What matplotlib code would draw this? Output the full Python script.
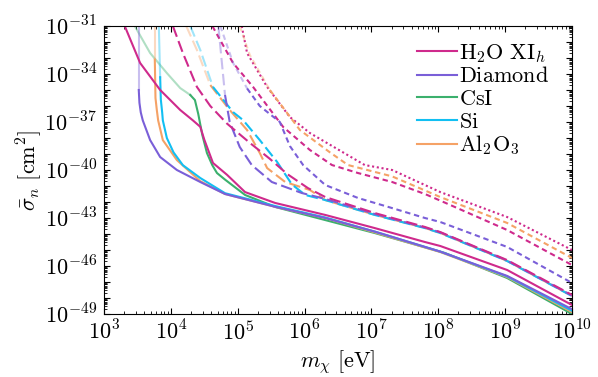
import numpy as np
import matplotlib
matplotlib.use("Agg")
import matplotlib.pyplot as plt
from matplotlib.ticker import FixedLocator, FuncFormatter, NullFormatter

plt.rcParams['mathtext.fontset'] = 'cm'
plt.rcParams['font.family'] = 'serif'
plt.rcParams['font.serif'] = ['DejaVu Serif']

# values are log10(m_chi / eV) and log10(sigma_n / cm^2)
materials = [r'$\mathrm{H_2O\ XI}_h$', r'$\mathrm{Diamond}$', r'$\mathrm{CsI}$',
             r'$\mathrm{Si}$', r'$\mathrm{Al_2O_3}$']
colors = ['#cf2a8c', '#7a5fd8', '#3bb06d', '#12bff2', '#f5a266']

# solid curves
h2o_solid_x = [3.31, 3.54, 3.84, 4.14, 4.33, 4.44, 4.50, 4.63, 4.84, 5.11, 5.56, 6.31, 7.05, 7.80, 8.03, 9.03, 10.0]
h2o_solid_y = [-31.0, -33.31, -35.0, -36.25, -36.9, -37.3, -38.1, -39.56, -40.3, -41.38, -42.06, -42.81, -43.63, -44.5, -44.75, -46.25, -48.44]

dia_solid_x = [3.52, 3.52, 3.53, 3.55, 3.58, 3.69, 3.84, 4.09, 4.44, 4.81, 5.56, 6.31, 7.05, 8.03, 9.03, 10.0]
dia_solid_y = [-31.0, -35.0, -35.8, -36.4, -36.9, -38.13, -39.19, -40.0, -40.75, -41.5, -42.3, -43.0, -43.85, -45.1, -46.62, -48.7]

csi_solid_x = [3.46, 3.69, 3.94, 4.14, 4.29, 4.36, 4.41, 4.47, 4.54, 4.62, 4.69, 4.81, 5.11, 5.56, 6.31, 7.05, 8.10, 9.03, 10.0]
csi_solid_y = [-31.0, -32.69, -33.94, -34.88, -35.31, -35.63, -36.5, -37.8, -38.94, -39.7, -40.19, -40.6, -41.56, -42.31, -43.13, -43.94, -45.19, -46.75, -49.0]

si_solid_x = [3.82, 3.84, 3.85, 3.87, 3.88, 3.94, 4.04, 4.18, 4.44, 4.81, 5.56, 6.31, 7.05, 8.03, 9.03, 10.0]
si_solid_y = [-31.0, -34.2, -35.6, -36.4, -36.9, -38.0, -38.9, -39.7, -40.5, -41.45, -42.25, -42.97, -43.85, -45.1, -46.65, -48.8]

al_solid_x = [3.76, 3.76, 3.77, 3.79, 3.81, 3.88, 4.09, 4.44, 4.81, 5.56, 6.31, 7.05, 8.03, 9.03, 10.0]
al_solid_y = [-31.0, -33.1, -35.5, -36.25, -36.9, -38.13, -39.38, -40.7, -41.5, -42.3, -43.0, -43.9, -45.13, -46.69, -48.88]

# long-dashed curves
h2o_long_x = [4.03, 4.18, 4.39, 4.59, 4.84, 5.18, 5.48, 5.74, 6.05, 6.31, 7.05, 7.80, 8.03, 9.03, 10.0]
h2o_long_y = [-31.0, -32.69, -34.81, -36.0, -37.1, -38.3, -39.3, -40.25, -41.13, -41.69, -42.69, -43.56, -43.88, -45.63, -47.81]

dia_long_x = [4.71, 4.81, 4.88, 5.03, 5.21, 5.51, 5.96, 6.31, 7.05, 7.80, 8.03, 9.03, 10.0]
dia_long_y = [-31.0, -35.31, -37.0, -38.56, -39.69, -40.75, -41.44, -41.81, -42.75, -43.6, -43.9, -45.66, -47.85]

si_long_x = [4.29, 4.44, 4.63, 4.93, 5.08, 5.33, 5.59, 5.81, 6.01, 6.31, 7.05, 7.80, 8.03, 9.03, 10.0]
si_long_y = [-31.0, -32.5, -34.81, -36.38, -36.88, -38.13, -39.5, -40.9, -41.56, -41.88, -42.81, -43.63, -43.94, -45.69, -47.88]

al_long_x = [4.23, 4.39, 4.59, 4.88, 5.14, 5.33, 5.44, 5.71, 6.08, 6.31, 7.05, 7.80, 8.03, 9.03, 10.0]
al_long_y = [-31.0, -32.5, -34.69, -36.25, -37.5, -38.94, -39.88, -40.75, -41.25, -41.88, -42.8, -43.62, -43.93, -45.68, -47.87]

# short-dashed curves
h2o_short_x = [4.62, 4.93, 5.23, 5.68, 6.08, 6.41, 6.80, 7.31, 7.80, 8.05, 9.03, 10.0]
h2o_short_y = [-31.0, -33.31, -34.81, -37.31, -38.75, -39.69, -40.19, -40.75, -41.5, -41.95, -43.75, -45.94]

dia_short_x = [4.74, 4.93, 5.14, 5.33, 5.63, 5.78, 5.98, 6.31, 6.80, 7.31, 7.80, 8.03, 9.03, 10.0]
dia_short_y = [-31.0, -33.3, -34.9, -36.0, -37.0, -38.5, -39.7, -40.94, -41.75, -42.38, -43.0, -43.25, -44.81, -47.06]

al_short_x = [5.03, 5.18, 5.48, 5.93, 6.38, 6.65, 7.31, 8.03, 9.03, 10.0]
al_short_y = [-31.0, -32.8, -35.0, -37.5, -38.9, -39.69, -40.4, -41.69, -43.31, -45.5]

# dotted curve
h2o_dot_x = [5.06, 5.14, 5.44, 5.78, 6.08, 6.90, 7.31, 8.03, 9.03, 10.0]
h2o_dot_y = [-31.0, -32.69, -34.81, -36.69, -37.69, -39.69, -40.0, -41.38, -42.94, -45.0]

# axis decades
x_decades = np.arange(3, 11)
y_decades = np.arange(-49, -30)

# (x, y, material index, linestyle, number of leading faint points)
curves = [
    (h2o_dot_x, h2o_dot_y, 0, (0, (1.0, 1.3)), 0),
    (al_short_x, al_short_y, 4, (0, (2.6, 1.8)), 3),
    (h2o_short_x, h2o_short_y, 0, (0, (2.6, 1.8)), 0),
    (dia_short_x, dia_short_y, 1, (0, (2.6, 1.8)), 3),
    (al_long_x, al_long_y, 4, (0, (5.5, 2.2)), 3),
    (si_long_x, si_long_y, 3, (0, (5.5, 2.2)), 3),
    (dia_long_x, dia_long_y, 1, (0, (5.5, 2.2)), 2),
    (h2o_long_x, h2o_long_y, 0, (0, (5.5, 2.2)), 0),
    (csi_solid_x, csi_solid_y, 2, '-', 5),
    (al_solid_x, al_solid_y, 4, '-', 2),
    (si_solid_x, si_solid_y, 3, '-', 2),
    (dia_solid_x, dia_solid_y, 1, '-', 2),
    (h2o_solid_x, h2o_solid_y, 0, '-', 0),
]

fig = plt.figure(figsize=(5.98, 3.77), dpi=100)
ax = fig.add_axes([104 / 598, 1 - 314 / 377, 468 / 598, 288 / 377])

for cx, cy, k, ls, nf in curves:
    mx = 10 ** np.array(cx)
    sy = 10 ** np.array(cy)
    if nf > 0:
        ax.plot(mx[:nf], sy[:nf], color=colors[k], ls=ls, lw=1.5, alpha=0.4)
        ax.plot(mx[nf - 1:], sy[nf - 1:], color=colors[k], ls=ls, lw=1.5)
    else:
        ax.plot(mx, sy, color=colors[k], ls=ls, lw=1.5)

handles = [plt.Line2D([], [], color=c, lw=1.5) for c in colors]
ax.legend(handles, materials, loc='upper left', bbox_to_anchor=(0.668, 0.945),
          frameon=False, fontsize=16, handlelength=1.8, handletextpad=0.1,
          labelspacing=0.03, borderpad=0, borderaxespad=0)

ax.set_xscale('log')
ax.set_yscale('log')
ax.set_xlim(1e3, 1e10)
ax.set_ylim(1e-49, 1e-31)

subs = np.arange(2, 10)
ax.xaxis.set_major_locator(FixedLocator(10.0 ** x_decades))
ax.xaxis.set_minor_locator(FixedLocator((subs[None, :] * 10.0 ** x_decades[:-1, None]).ravel()))
ax.yaxis.set_major_locator(FixedLocator(10.0 ** y_decades))
ax.yaxis.set_minor_locator(FixedLocator((subs[None, :] * 10.0 ** y_decades[:-1, None]).ravel()))
ax.xaxis.set_major_formatter(FuncFormatter(lambda v, p: r'$10^{%d}$' % round(np.log10(v))))


def ylab(v, p):
    e = int(round(np.log10(v)))
    return r'$10^{%d}$' % e if (-31 - e) % 3 == 0 else ''


ax.yaxis.set_major_formatter(FuncFormatter(ylab))
ax.xaxis.set_minor_formatter(NullFormatter())
ax.yaxis.set_minor_formatter(NullFormatter())
ax.tick_params(which='both', direction='in', top=True, right=True, labelsize=16)
ax.tick_params(which='major', length=4.5, width=0.8, pad=5)
ax.tick_params(which='minor', length=2.2, width=0.6)

ax.set_xlabel(r'$m_\chi\ [\mathrm{eV}]$', fontsize=16, labelpad=2)
ax.set_ylabel(r'$\bar{\sigma}_n\ [\mathrm{cm}^2]$', fontsize=16, labelpad=0)

fig.savefig('out.png', dpi=100)
